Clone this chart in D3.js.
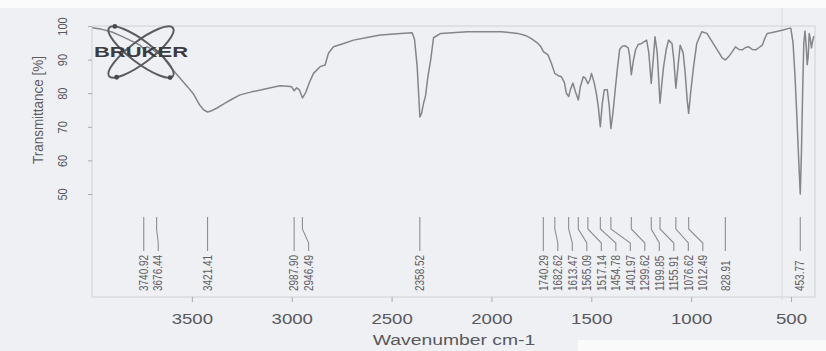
<!DOCTYPE html>
<html>
<head>
<meta charset="utf-8">
<script src="https://cdn.jsdelivr.net/npm/d3@7"></script>
<style>
  html, body { margin: 0; padding: 0; background: #eff0f4; }
  svg { display: block; font-family: "Liberation Sans", Arial, sans-serif; }
</style>
</head>
<body>
<svg id="chart" width="826" height="351"></svg>
<script>
// IR spectrum: wavenumber (cm-1) and transmittance (%)
const wavenumber = [
  3998, 3950, 3900, 3850, 3800, 3760, 3741, 3725, 3700, 3676, 3655, 3630, 3600, 3560,
  3520, 3490, 3460, 3440, 3421, 3400, 3374, 3340, 3300, 3259, 3200, 3150, 3100, 3059,
  3020, 3000, 2988, 2975, 2962, 2946, 2930, 2910, 2891, 2858, 2833, 2816, 2791, 2740,
  2690, 2623, 2556, 2455, 2397, 2385, 2372, 2362, 2358.5, 2350, 2340, 2330, 2318, 2304,
  2290, 2254, 2120, 1952, 1900, 1868, 1830, 1802, 1767, 1752, 1740, 1717, 1700, 1683,
  1665, 1650, 1635, 1625, 1613, 1605, 1592, 1580, 1565, 1555, 1540, 1530, 1517, 1507,
  1499, 1485, 1475, 1465, 1454.8, 1445, 1435, 1420, 1410, 1402, 1392, 1382, 1370, 1358,
  1345, 1330, 1315, 1308, 1299.6, 1290, 1278, 1265, 1248, 1223, 1212, 1199.9, 1190, 1181,
  1170, 1156, 1145, 1138, 1125, 1113, 1096, 1087, 1076.6, 1066, 1055, 1040, 1030, 1020,
  1012.5, 1003, 988, 972, 947, 921, 900, 879, 860, 845, 829, 812, 795, 778, 760, 744,
  728, 711, 694, 677, 660, 644, 630, 619, 600, 577, 540, 510, 501, 490, 480, 470, 460,
  453.8, 448, 442, 436, 430, 424, 419, 414, 409, 403, 398, 392, 386
];
const transmittance = [
  99.5, 99.0, 98.2, 96.9, 95.5, 94.3, 93.2, 93.8, 93.2, 92.0, 91.4, 89.6, 87.3, 84.5,
  81.8, 79.6, 76.4, 75.0, 74.4, 74.8, 75.6, 76.8, 78.2, 79.5, 80.4, 81.0, 81.7, 82.2,
  82.1, 81.9, 80.7, 81.6, 81.0, 78.6, 80.2, 83.4, 85.9, 87.9, 88.4, 91.9, 93.8, 94.8,
  95.8, 96.6, 97.3, 97.8, 98.0, 96.0, 88.0, 77.0, 72.9, 74.0, 77.0, 79.2, 85.0, 90.0,
  96.5, 97.8, 98.3, 98.3, 98.0, 97.8, 97.2, 96.3, 94.8, 93.8, 92.4, 91.4, 88.9, 85.9,
  85.2, 84.9, 83.2, 80.0, 79.0, 81.0, 83.0, 80.5, 78.0, 81.9, 84.9, 84.5, 82.8, 84.0,
  85.9, 83.0, 80.0, 76.0, 70.0, 77.0, 81.0, 81.0, 76.0, 69.5, 74.0, 80.0, 87.0, 93.0,
  94.0, 94.1, 93.5, 91.0, 85.5, 89.5, 93.0, 94.5, 94.8, 95.8, 92.0, 82.9, 90.0, 96.8,
  92.0, 77.0, 84.0, 87.9, 93.0, 95.8, 94.8, 90.0, 81.5, 88.0, 94.3, 92.0, 86.0, 78.0,
  74.0, 80.0, 87.9, 94.8, 98.3, 97.8, 95.8, 93.8, 92.0, 90.5, 89.9, 90.9, 92.3, 93.8,
  93.0, 92.9, 93.6, 93.8, 93.0, 92.9, 93.6, 94.3, 96.5, 97.8, 98.0, 98.3, 98.8, 99.3,
  99.3, 95.0, 85.0, 72.0, 58.0, 50.0, 62.0, 80.0, 95.0, 98.5, 94.0, 88.5, 91.0, 97.8,
  96.0, 93.5, 95.5, 97.0
];

// Picked peaks
const peakPositions = [
  3740.92, 3676.44, 3421.41, 2987.90, 2946.49, 2358.52, 1740.29, 1682.62, 1613.47,
  1565.09, 1517.14, 1454.78, 1401.97, 1299.62, 1199.85, 1155.91, 1076.62, 1012.49,
  828.91, 453.77
];

const xTicks = [3500, 3000, 2500, 2000, 1500, 1000, 500];
const yTicks = [100, 90, 80, 70, 60, 50];

const svg = d3.select("#chart");
const W = 826, H = 351;

const plot = { left: 92, right: 815, top: 26, bottom: 297 };

const x = d3.scaleLinear().domain([4000, 380]).range([plot.left, plot.right]);
const y = d3.scaleLinear().domain([100, 50]).range([26, 194]);

// page paper edges
svg.append("rect").attr("x", 0).attr("y", 0).attr("width", W).attr("height", 8).attr("fill", "#fbfbfc");
svg.append("rect").attr("x", 578).attr("y", 340).attr("width", W - 578).attr("height", H - 340).attr("fill", "#fafafb");

// plot frame
svg.append("rect")
  .attr("x", plot.left).attr("y", plot.top)
  .attr("width", plot.right - plot.left).attr("height", plot.bottom - plot.top)
  .attr("fill", "none").attr("stroke", "#d4d5da").attr("stroke-width", 1.2);

// faint fold line across the sheet
svg.append("line").attr("x1", 782).attr("x2", 782).attr("y1", 8).attr("y2", 300)
  .attr("stroke", "#dcdde2").attr("stroke-width", 1.2);

// x axis
const xAxis = svg.append("g")
  .attr("transform", `translate(0,${plot.bottom})`)
  .call(d3.axisBottom(x).tickValues(xTicks).tickSize(5).tickSizeOuter(0).tickFormat(d3.format("d")));
xAxis.select(".domain").remove();
xAxis.selectAll(".tick line").attr("stroke", "#a9aaaf");
xAxis.selectAll(".tick text")
  .attr("y", 27).attr("dy", 0)
  .attr("font-size", 14).attr("fill", "#58585c")
  .attr("font-family", "Liberation Sans, Arial, sans-serif")
  .attr("transform", "scale(1.33,1)");

// y axis
const yAxis = svg.append("g")
  .attr("transform", `translate(${plot.left},0)`)
  .call(d3.axisLeft(y).tickValues(yTicks).tickSize(4).tickSizeOuter(0));
yAxis.select(".domain").remove();
yAxis.selectAll(".tick line").attr("stroke", "#a9aaaf");
yAxis.selectAll(".tick text")
  .attr("x", 0).attr("dy", "0.35em")
  .attr("text-anchor", "middle")
  .attr("font-size", 11).attr("fill", "#58585c")
  .attr("font-family", "Liberation Sans, Arial, sans-serif")
  .attr("transform", "translate(-30,0) scale(1.2,1) rotate(-90)");

// axis titles
svg.append("text")
  .attr("transform", "translate(454,345) scale(1.29,1)")
  .attr("text-anchor", "middle")
  .attr("font-size", 15).attr("fill", "#58585c")
  .text("Wavenumber cm-1");

svg.append("text")
  .attr("transform", "translate(38,110) scale(1.15,1) rotate(-90)")
  .attr("text-anchor", "middle").attr("dy", "0.35em")
  .attr("font-size", 13.5).attr("fill", "#5e5e62")
  .text("Transmittance [%]");

// spectrum trace
const spectrum = wavenumber.map((w, i) => ({ w, t: transmittance[i] }));
svg.append("path")
  .datum(spectrum)
  .attr("fill", "none")
  .attr("stroke", "#858589")
  .attr("stroke-width", 1.5)
  .attr("stroke-linejoin", "round")
  .attr("d", d3.line().x(d => x(d.w)).y(d => y(d.t)));

// peak pick labels: spread apart so neighbouring labels do not overlap
const labelGap = 14.5;
const peaks = peakPositions.slice().sort((a, b) => b - a).map(p => ({ p, px: x(p) }));
let prev = -Infinity;
peaks.forEach(d => { d.lx = Math.max(d.px, prev + labelGap); prev = d.lx; });

const fmt = d3.format(".2f");
const peakG = svg.append("g");
peakG.selectAll("path")
  .data(peaks)
  .join("path")
  .attr("fill", "none")
  .attr("stroke", "#8e8e92")
  .attr("stroke-width", 1.1)
  .attr("d", d => `M${d.px},217V229L${d.lx},243V251`);

peakG.selectAll("text")
  .data(peaks)
  .join("text")
  .attr("transform", d => `translate(${d.lx},291) scale(1.2,1) rotate(-90)`)
  .attr("dy", "0.35em")
  .attr("text-anchor", "start")
  .attr("font-size", 10)
  .attr("fill", "#5f5f63")
  .text(d => fmt(d.p));

// Bruker logo
const logo = svg.append("g").attr("transform", "translate(141,52)");
[37, -37].forEach(a => {
  logo.append("ellipse")
    .attr("rx", 40).attr("ry", 11)
    .attr("transform", `rotate(${a})`)
    .attr("fill", "none").attr("stroke", "#5c5c60").attr("stroke-width", 2);
});
// electrons on the orbits
[[37, 205], [-37, 150], [37, 15]].forEach(([a, t]) => {
  const r = a * Math.PI / 180, th = t * Math.PI / 180;
  const lx = 40 * Math.cos(th), ly = 11 * Math.sin(th);
  logo.append("circle")
    .attr("cx", lx * Math.cos(r) - ly * Math.sin(r))
    .attr("cy", lx * Math.sin(r) + ly * Math.cos(r))
    .attr("r", 2.4).attr("fill", "#4a4a4e");
});
logo.append("text")
  .attr("x", -47).attr("y", 5)
  .attr("textLength", 94).attr("lengthAdjust", "spacingAndGlyphs")
  .attr("font-size", 14).attr("font-weight", "bold")
  .attr("fill", "#3c3c40")
  .text("BRUKER");
</script>
</body>
</html>
